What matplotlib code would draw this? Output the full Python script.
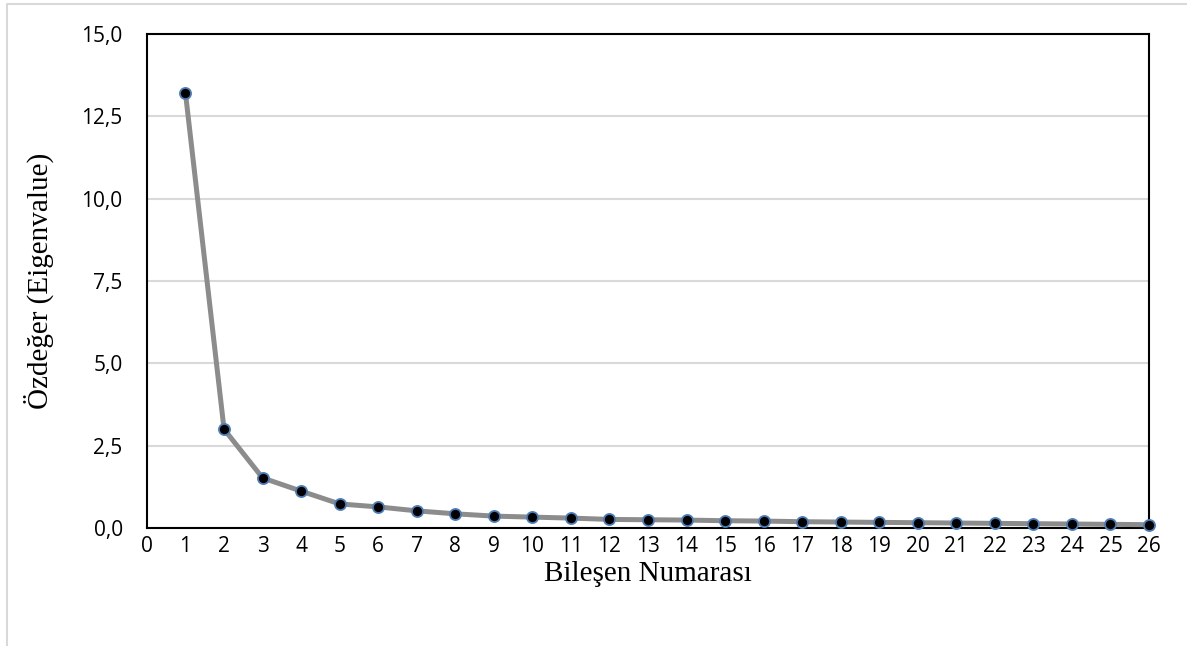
import numpy as np
import matplotlib.pyplot as plt
from matplotlib.lines import Line2D

# scree plot values
components = list(range(1, 27))
eigenvalues = [13.2, 3.0, 1.52, 1.12, 0.73, 0.64, 0.52, 0.43, 0.36, 0.33,
               0.30, 0.26, 0.25, 0.24, 0.22, 0.21, 0.19, 0.18, 0.17, 0.16,
               0.15, 0.14, 0.13, 0.12, 0.11, 0.10]
y_ticks = [0.0, 2.5, 5.0, 7.5, 10.0, 12.5, 15.0]
x_ticks = list(range(0, 27))

fig = plt.figure(figsize=(11.87, 6.46), dpi=100)
ax = fig.add_axes([0.1238, 0.1827, 0.968 - 0.1238, 0.9474 - 0.1827])

ax.plot(components, eigenvalues, color='#8c8c8c', linewidth=3.6,
        marker='o', markersize=8, markerfacecolor='black',
        markeredgecolor='#4a7ebb', markeredgewidth=1.3, zorder=3,
        clip_on=False)

ax.set_xlim(0, 26)
ax.set_ylim(0, 15)
ax.set_yticks(y_ticks)
ax.set_yticklabels([f"{v:.1f}".replace('.', ',') for v in y_ticks])
ax.set_xticks(x_ticks)
ax.set_xticklabels([str(v) for v in x_ticks])
ax.tick_params(axis='x', length=0, labelsize=15, pad=6)
ax.tick_params(axis='y', length=0, labelsize=15, pad=17.5)
for lbl in ax.get_xticklabels() + ax.get_yticklabels():
    lbl.set_family('Open Sans')

ax.grid(axis='y', color='#d9d9d9', linewidth=1.5)
ax.set_axisbelow(True)
for s in ax.spines.values():
    s.set_color('black')
    s.set_linewidth(1.5)

ax.set_xlabel('Bileşen Numarası', family='Liberation Serif', fontsize=21,
              labelpad=3)
ax.set_ylabel('Özdeğer (Eigenvalue)', family='Liberation Serif', fontsize=21,
              labelpad=20)

# light outer chart border (top and left, as in the cropped original)
fig.add_artist(Line2D([7 / 1187, 7 / 1187, 1], [0, 1 - 4 / 646, 1 - 4 / 646],
                      transform=fig.transFigure, color='#d9d9d9', linewidth=1.5))

fig.savefig('out.png', dpi=100)
